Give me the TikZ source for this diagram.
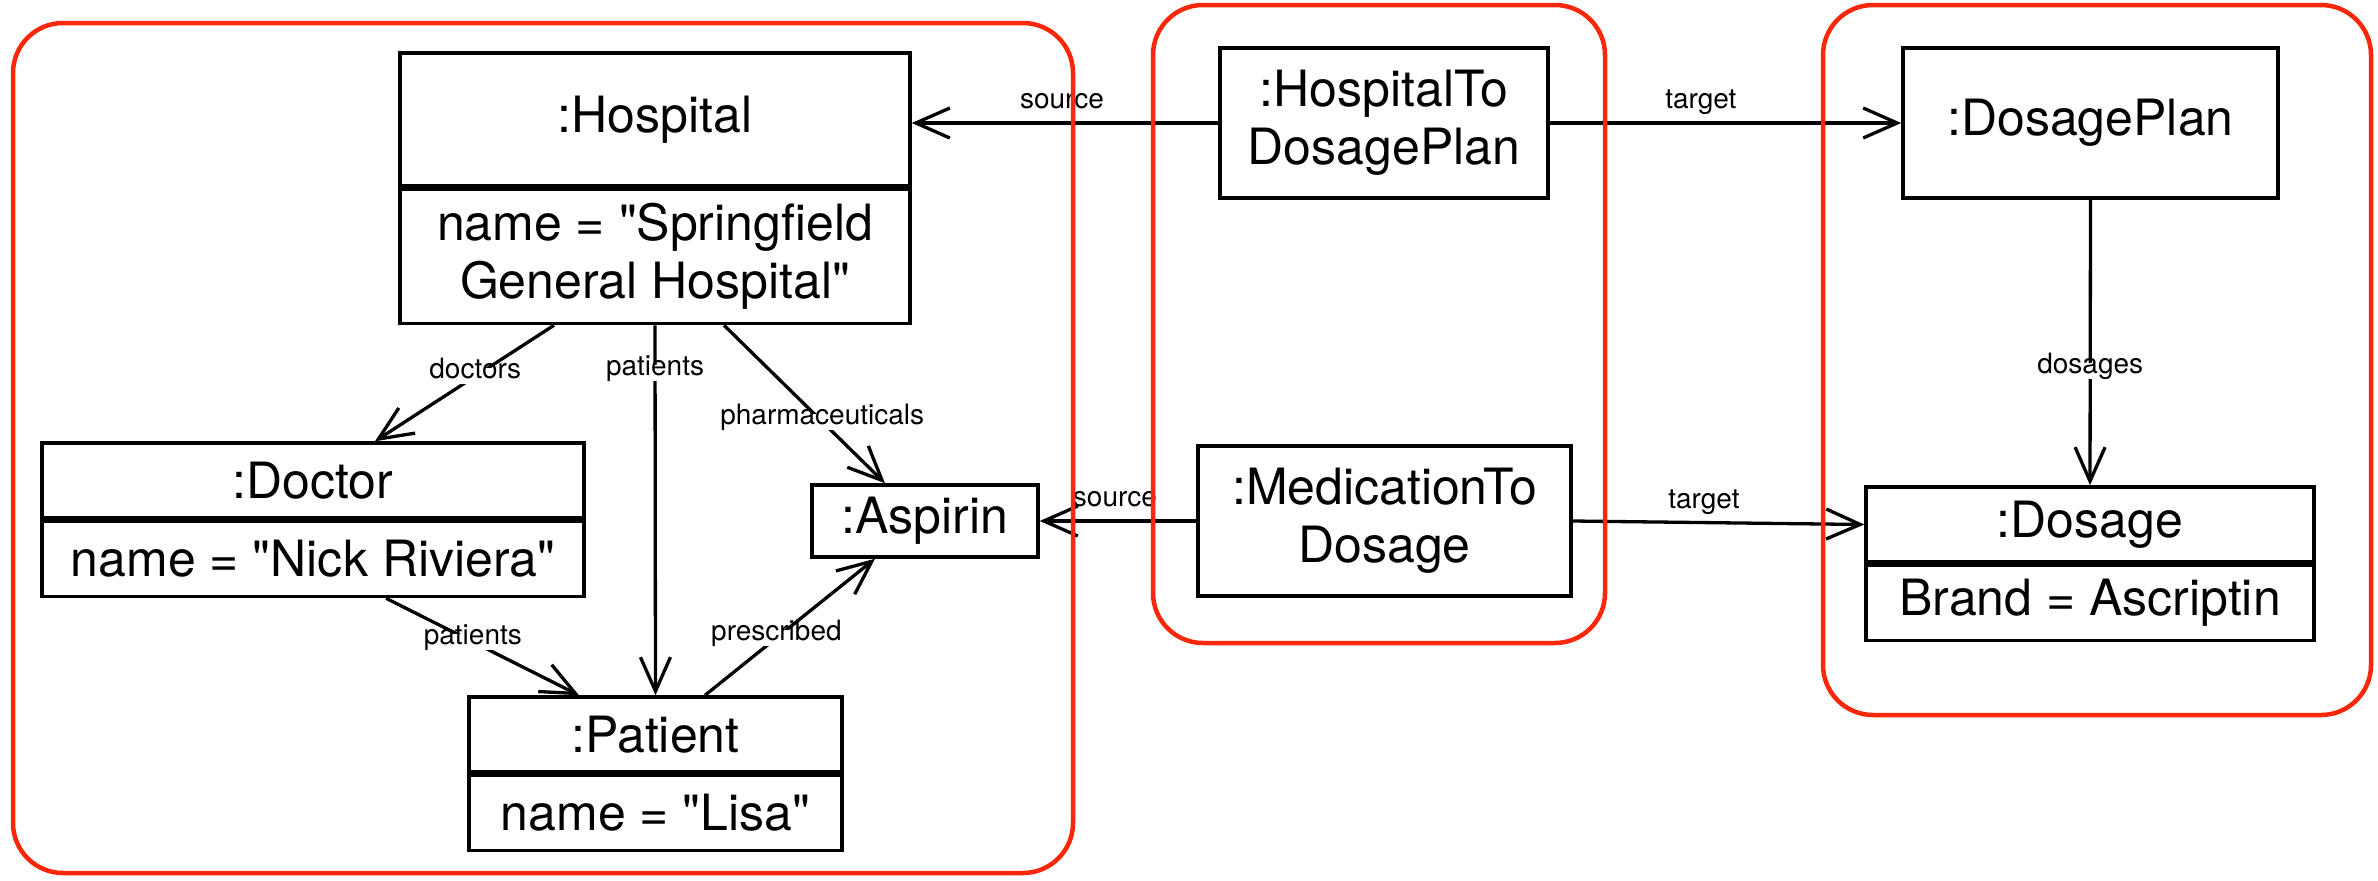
\documentclass[tikz,border=0pt]{standalone}
\usepackage{fontspec}
\setmainfont{TeX Gyre Heros}[Ligatures=TeXOff]
\usetikzlibrary{arrows.meta,calc}
\definecolor{framered}{RGB}{250,40,10}
\tikzset{
  obj/.style={draw, line width=3.5pt, inner sep=0pt, align=center, font=\fontsize{50}{58}\selectfont},
  lbl/.style={font=\fontsize{28}{30}\selectfont, inner sep=3pt, text height=0.75em, text depth=0.25em},
  onl/.style={lbl, fill=white},
  conn/.style={line width=3.3pt, -{Straight Barb[length=34pt,width=30pt,line width=3.3pt]}},
  group/.style={draw=framered, line width=4.5pt, rounded corners=50pt},
}
\begin{document}
\begin{tikzpicture}[x=1pt,y=-1pt]
\useasboundingbox (0,0) rectangle (2378,881);
\fill[white] (0,0) rectangle (2378,881);

% objects
\node[obj, minimum width=510, minimum height=133] (hosp) at (655,119.5) {:Hospital};
\node[obj, minimum width=510, minimum height=134, anchor=north] (hospA) at (hosp.south) {name = "Springfield\\General Hospital"};

\node[obj, minimum width=542, minimum height=75] (doc) at (313,480.5) {:Doctor};
\node[obj, minimum width=542, minimum height=75, anchor=north] (docA) at (doc.south) {name = "Nick Riviera"};

\node[obj, minimum width=373, minimum height=75] (pat) at (655.5,734.5) {:Patient};
\node[obj, minimum width=373, minimum height=75, anchor=north] (patA) at (pat.south) {name = "Lisa"};

\node[obj, minimum width=226, minimum height=72] (asp) at (925,521) {:Aspirin};

\node[obj, minimum width=328, minimum height=150] (h2dp) at (1384,123) {:HospitalTo\\DosagePlan};
\node[obj, minimum width=373, minimum height=150] (m2d) at (1384.5,521) {:MedicationTo\\Dosage};

\node[obj, minimum width=375, minimum height=150] (dplan) at (2090.5,123) {:DosagePlan};
\node[obj, minimum width=448, minimum height=75] (dos) at (2090,524.5) {:Dosage};
\node[obj, minimum width=448, minimum height=75, anchor=north] (dosA) at (dos.south) {Brand = Ascriptin};

% connectors
\draw[conn] (h2dp.west) -- (h2dp.west -| hosp.east) node[lbl, pos=0.51, above=7pt] {source};
\draw[conn] (h2dp.east) -- (dplan.west) node[lbl, pos=0.43, above=7pt] {target};
\draw[conn] (m2d.west) -- (asp.east) node[lbl, pos=0.52, above=7pt] {source};
\draw[conn] (m2d.east) -- (dos.west) node[lbl, pos=0.45, above=7pt] {target};
\draw[conn] (dplan.south) -- (dos.north) node[onl, pos=0.6] {dosages};
\draw[conn] ([xshift=-101pt]hospA.south) -- ([xshift=62pt]doc.north) node[onl, pos=0.44] {doctors};
\draw[conn] (hospA.south) -- (pat.north) node[onl, pos=0.13] {patients};
\draw[conn] ([xshift=69pt]hospA.south) -- ([xshift=-40pt]asp.north) node[onl, pos=0.61] {pharmaceuticals};
\draw[conn] ([xshift=73pt]docA.south) -- ([xshift=-76.5pt]pat.north) node[onl, pos=0.45] {patients};
\draw[conn] ([xshift=49.5pt]pat.north) -- ([xshift=-50pt]asp.south) node[onl, pos=0.42] {prescribed};

% groups
\draw[group] (13,23) rectangle (1073,873);
\draw[group] (1153,5) rectangle (1605,643);
\draw[group] (1823,5) rectangle (2371,715);
\end{tikzpicture}
\end{document}
